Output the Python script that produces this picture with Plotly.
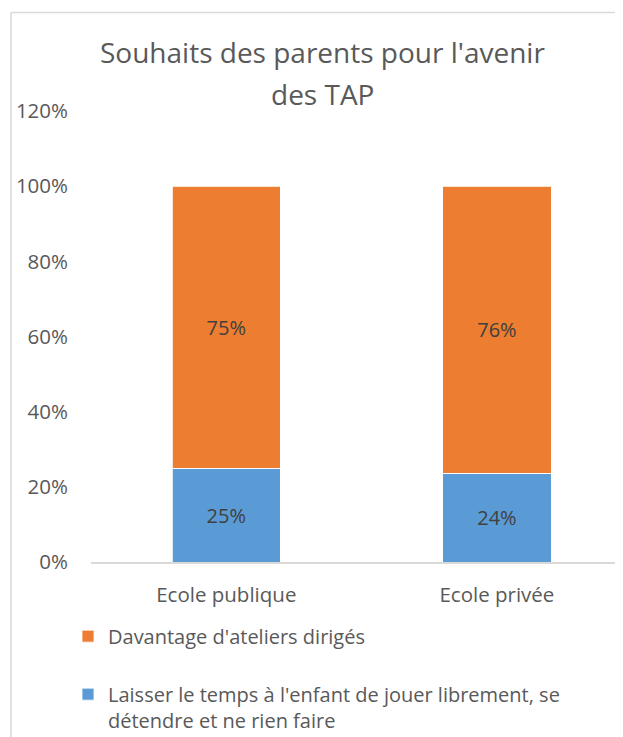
import plotly.graph_objects as go

# données
ecoles = ["Ecole publique", "Ecole privée"]
libre = [0.25, 0.236]
ateliers = [0.75, 0.764]
nom_libre = "Laisser le temps à l'enfant de jouer librement, se<br>détendre et ne rien faire"
nom_ateliers = "Davantage d'ateliers dirigés"
y_ticks = [0, 0.2, 0.4, 0.6, 0.8, 1.0, 1.2]

BLEU = "#5B9BD5"
ORANGE = "#ED7D31"
GRIS_TEXTE = "#595959"
GRIS_LIGNE = "#D9D9D9"
FONT = "Open Sans"

# la page décale le graphique de 8px (marge du body)
OFF = 8
W, H = 623 - OFF, 737 - OFF
L, R, T = 91 - OFF, 0, 110.7 - OFF
B = H - (562.3 - OFF)
pw = W - L - R
ph = H - T - B


def px_x(x):
    # x en pixels de la capture -> coordonnée paper
    return (x - OFF - L) / pw


def px_y(y):
    return (H - B - (y - OFF)) / ph


fig = go.Figure()
fig.add_trace(go.Bar(
    x=ecoles, y=libre, name=nom_libre, marker=dict(color=BLEU, line=dict(color="white", width=0.8)),
    width=0.4, texttemplate="%{y:.0%}", textposition="inside", insidetextanchor="middle",
    textfont=dict(color="#404040", size=20, family=FONT), legendgroup="a", legendrank=2))
fig.add_trace(go.Bar(
    x=ecoles, y=ateliers, name=nom_ateliers, marker=dict(color=ORANGE, line=dict(color="white", width=0.8)),
    width=0.4, texttemplate="%{y:.0%}", textposition="inside", insidetextanchor="middle",
    textfont=dict(color="#404040", size=20, family=FONT), legendgroup="b", legendrank=1))

# cadre du graphique
fig.add_shape(type="line", xref="paper", yref="paper", x0=px_x(11), x1=px_x(11), y0=px_y(745), y1=px_y(12),
              line=dict(color=GRIS_LIGNE, width=1.5))
fig.add_shape(type="line", xref="paper", yref="paper", x0=px_x(11), x1=px_x(640), y0=px_y(12), y1=px_y(12),
              line=dict(color=GRIS_LIGNE, width=1.5))

# titre sur deux lignes
fig.add_annotation(text="Souhaits des parents pour l'avenir", xref="paper", yref="paper",
                   x=px_x(322), y=px_y(52), xanchor="center", yanchor="middle", showarrow=False,
                   font=dict(size=28, color=GRIS_TEXTE, family=FONT))
fig.add_annotation(text="des TAP", xref="paper", yref="paper",
                   x=px_x(322), y=px_y(94), xanchor="center", yanchor="middle", showarrow=False,
                   font=dict(size=28, color=GRIS_TEXTE, family=FONT))

fig.update_layout(
    width=W, height=H, barmode="stack",
    margin=dict(l=L, r=R, t=T, b=B, autoexpand=False),
    paper_bgcolor="white", plot_bgcolor="white",
    font=dict(family=FONT, color=GRIS_TEXTE, size=20),
    xaxis=dict(range=[-0.5, -0.5 + pw / 270.6], showline=True, linecolor=GRIS_LIGNE, linewidth=1.5,
               showgrid=False, zeroline=False, ticks="", ticklabelstandoff=14,
               tickfont=dict(size=20.5, color=GRIS_TEXTE)),
    yaxis=dict(range=[0, 1.2], tickvals=y_ticks, tickformat=".0%", showgrid=False, zeroline=False,
               showline=False, ticks="", ticklabelstandoff=22, tickfont=dict(size=20.5, color=GRIS_TEXTE)),
    legend=dict(x=px_x(68), y=px_y(617), xanchor="left", yanchor="top", traceorder="grouped",
                tracegroupgap=29, valign="top", font=dict(size=20, color=GRIS_TEXTE)),
)

fig.write_html("out.html")
